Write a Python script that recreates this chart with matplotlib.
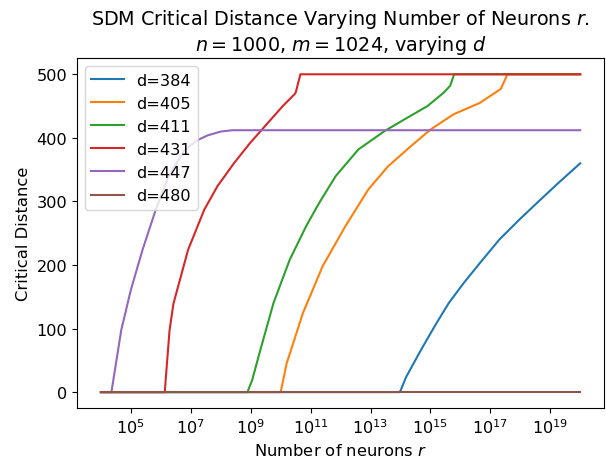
import numpy as np
import matplotlib.pyplot as plt
from matplotlib.ticker import NullLocator

plt.rcParams['font.size'] = 11.6

# critical distance curves, x given as exponent of r (r = 10**exp)
labels = ['d=384', 'd=405', 'd=411', 'd=431', 'd=447', 'd=480']

exp_384 = [4, 13.96, 14.0, 14.19, 14.68, 15.17, 15.61, 16.10, 16.65, 17.30, 17.96, 18.61, 19.27, 20.0]
dist_384 = [0, 0, 2, 24, 66, 106, 140, 171, 203, 240, 271, 300, 329, 360]

exp_405 = [4, 10.0, 10.20, 10.74, 11.40, 12.16, 12.93, 13.58, 14.35, 15.0, 15.77, 16.65, 17.35, 17.57, 20]
dist_405 = [0, 0, 45, 124, 198, 261, 319, 355, 387, 413, 437, 455, 477, 500, 500]

exp_411 = [4, 8.89, 9.05, 9.32, 9.76, 10.30, 10.85, 11.29, 11.84, 12.60, 13.48, 14.24, 14.90, 15.44, 15.66, 15.79, 20]
dist_411 = [0, 0, 19, 66, 140, 208, 261, 298, 340, 382, 411, 432, 450, 471, 482, 500, 500]

exp_431 = [4, 6.13, 6.29, 6.42, 6.91, 7.45, 7.89, 8.44, 8.98, 9.45, 10.07, 10.45, 10.50, 10.66, 20]
dist_431 = [0, 0, 97, 139, 224, 287, 324, 360, 392, 417, 450, 468, 471, 500, 500]

exp_447 = [4, 4.35, 4.68, 5.0, 5.39, 5.83, 6.26, 6.81, 7.25, 7.57, 8.01, 8.39, 20]
dist_447 = [0, 0, 98, 161, 224, 287, 340, 382, 397, 404, 410, 412, 412]

exp_480 = [4, 20]
dist_480 = [0, 0]

tick_exps = [5, 7, 9, 11, 13, 15, 17, 19]

series = [
    (exp_384, dist_384),
    (exp_405, dist_405),
    (exp_411, dist_411),
    (exp_431, dist_431),
    (exp_447, dist_447),
    (exp_480, dist_480),
]

fig = plt.figure(figsize=(6.06, 4.64), dpi=100)
ax = fig.add_axes([0.127, 0.1185, 0.870, 0.7535])

for label, (exps, dists) in zip(labels, series):
    r = np.power(10.0, exps)
    ax.plot(r, dists, label=label)

ax.set_xscale('log')
ax.set_xlim(10**3.2, 10**20.8)
ax.set_xticks([10.0**k for k in tick_exps])
ax.xaxis.set_minor_locator(NullLocator())
ax.set_xlabel('Number of neurons $r$', fontsize=11.8)
ax.set_ylabel('Critical Distance', fontsize=11.8)
ax.set_title('SDM Critical Distance Varying Number of Neurons $r$.\n$n=1000$, $m=1024$, varying $d$',
             fontsize=13.8)
ax.legend(loc='upper left')

fig.savefig('out.png', dpi=100)
